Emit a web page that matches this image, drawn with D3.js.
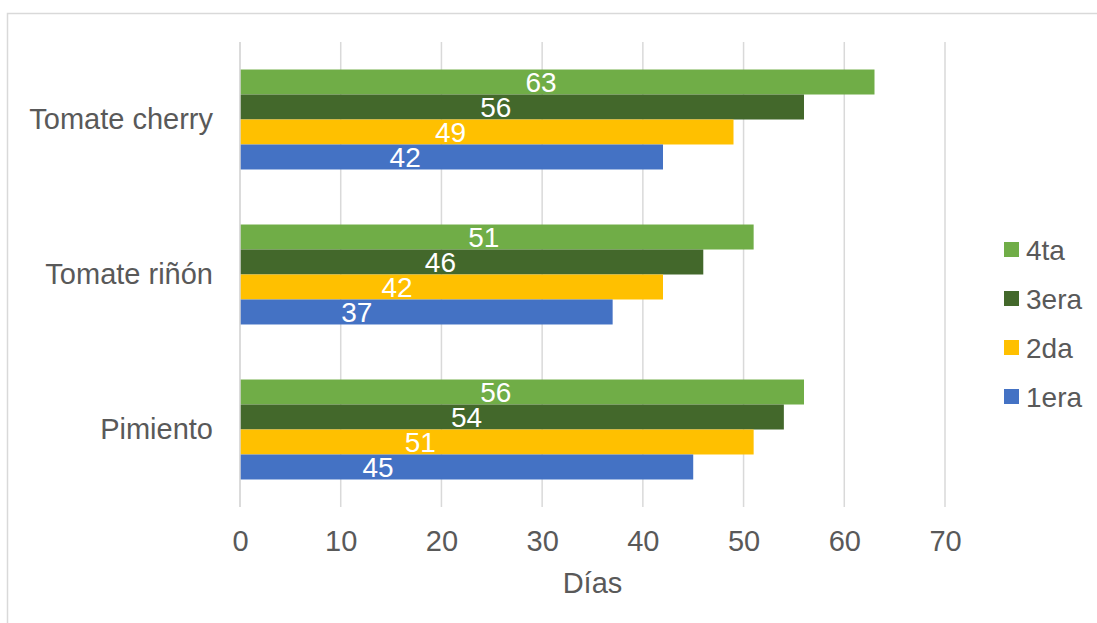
<!DOCTYPE html>
<html>
<head>
<meta charset="utf-8">
<script src="https://cdn.jsdelivr.net/npm/d3@7"></script>
<style>
  body { margin: 0; background: #fff; }
  text { font-family: "Liberation Sans", Arial, sans-serif; }
</style>
</head>
<body>
<div class="chart"></div>
<script>
// data
const categories = ["Tomate cherry", "Tomate riñón", "Pimiento"];
const seriesNames = ["4ta", "3era", "2da", "1era"];
const seriesColors = ["#70ad47", "#43682b", "#ffc000", "#4472c4"];
const values = {
  "4ta":  [63, 51, 56],
  "3era": [56, 46, 54],
  "2da":  [49, 42, 51],
  "1era": [42, 37, 45]
};
// where the value labels sit, in days (they are not centred)
const labelAt = {
  "4ta":  [29.9, 24.2, 25.4],
  "3era": [25.4, 19.9, 22.5],
  "2da":  [20.9, 15.6, 17.9],
  "1era": [16.4, 11.6, 13.7]
};
const xTicks = [0, 10, 20, 30, 40, 50, 60, 70];

const W = 1097, H = 623;
const margin = ({top: 42, right: 152, bottom: 116, left: 240});
const width = W - margin.left - margin.right;
const height = H - margin.top - margin.bottom;

const root = d3.select(".chart").append("svg")
    .attr("width", W)
    .attr("height", H);

// outer frame
root.append("rect")
    .attr("x", 7.5).attr("y", 13.5)
    .attr("width", W).attr("height", H)
    .attr("fill", "none")
    .attr("stroke", "#d9d9d9")
    .attr("stroke-width", 1.5);

const svg = root.append("g")
    .attr("transform", `translate(${margin.left},${margin.top})`);

// scales
const xScale = d3.scaleLinear().domain([0, 70]).range([0, width]);
const yScale = d3.scaleBand().domain(categories).range([0, height]).paddingInner(0.355).paddingOuter(0.1775);
const subScale = d3.scaleBand().domain(seriesNames).range([0, yScale.bandwidth()]);

// gridlines
svg.append("g")
    .selectAll("line")
    .data(xTicks)
    .join("line")
    .attr("x1", d => xScale(d)).attr("x2", d => xScale(d))
    .attr("y1", 0).attr("y2", height)
    .attr("stroke", "#d9d9d9")
    .attr("stroke-width", 1.5);

// x axis
const xAxis = d3.axisBottom(xScale).tickValues(xTicks).tickSize(0).tickPadding(23);
const xAxisDisplay = svg.append("g")
    .attr("transform", `translate(0, ${height})`)
    .call(xAxis);
xAxisDisplay.select(".domain").remove();
xAxisDisplay.selectAll("text")
    .attr("font-size", 29)
    .attr("fill", "#595959")
    .style("font-family", "'Liberation Sans', Arial, sans-serif");

// y axis
const yAxis = d3.axisLeft(yScale).tickSize(0).tickPadding(27);
const yAxisDisplay = svg.append("g").call(yAxis);
yAxisDisplay.select(".domain").remove();
yAxisDisplay.selectAll("text")
    .attr("font-size", 29)
    .attr("fill", "#595959")
    .style("font-family", "'Liberation Sans', Arial, sans-serif");

// bars
const rows = [];
categories.forEach((c, i) => {
  seriesNames.forEach((s, j) => rows.push({
    cat: c, series: s, value: values[s][i], at: labelAt[s][i], color: seriesColors[j]
  }));
});

const groups = svg.append("g");
groups.selectAll("rect")
    .data(rows)
    .join("rect")
    .attr("x", xScale(0))
    .attr("y", d => yScale(d.cat) + subScale(d.series))
    .attr("width", d => xScale(d.value) - xScale(0))
    .attr("height", subScale.bandwidth())
    .attr("fill", d => d.color);

groups.selectAll("text")
    .data(rows)
    .join("text")
    .attr("x", d => xScale(d.at))
    .attr("y", d => yScale(d.cat) + subScale(d.series) + subScale.bandwidth() / 2)
    .attr("dy", "0.36em")
    .attr("text-anchor", "middle")
    .attr("font-size", 28)
    .attr("fill", "#fff")
    .text(d => d.value);

// zero line on top of the bars' left edge
svg.append("line")
    .attr("x1", 0).attr("x2", 0)
    .attr("y1", 0).attr("y2", height)
    .attr("stroke", "#d9d9d9")
    .attr("stroke-width", 1.5);

// axis title
svg.append("text")
    .attr("x", xScale(35))
    .attr("y", height + 65)
    .attr("dy", "0.71em")
    .attr("text-anchor", "middle")
    .attr("font-size", 29)
    .attr("fill", "#595959")
    .text("Días");

// legend
const legend = root.append("g")
    .attr("transform", "translate(1004, 249.5)");
const items = legend.selectAll("g")
    .data(seriesNames)
    .join("g")
    .attr("transform", (d, i) => `translate(0, ${i * 49})`);
items.append("rect")
    .attr("x", 0).attr("y", -7.5)
    .attr("width", 15).attr("height", 15)
    .attr("fill", (d, i) => seriesColors[i]);
items.append("text")
    .attr("x", 22)
    .attr("y", 0)
    .attr("dy", "0.36em")
    .attr("font-size", 28)
    .attr("fill", "#595959")
    .text(d => d);
</script>
</body>
</html>
